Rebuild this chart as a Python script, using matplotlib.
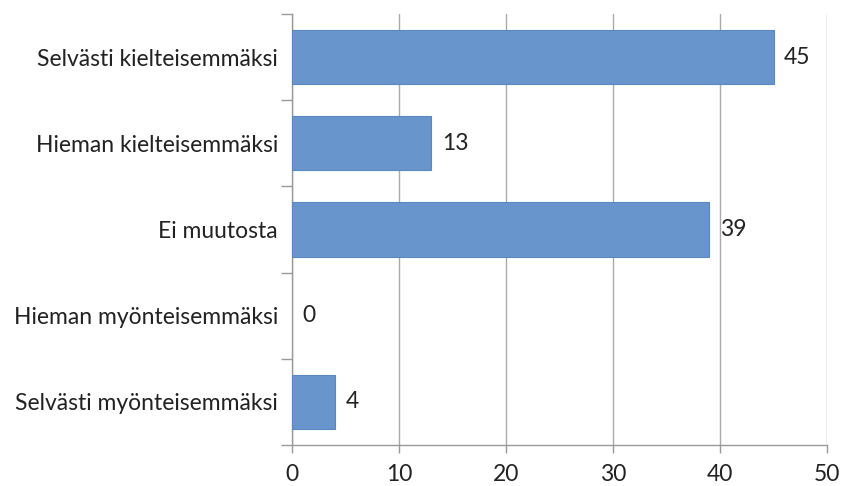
import matplotlib.pyplot as plt

categories = [
    "Selvästi kielteisemmäksi",
    "Hieman kielteisemmäksi",
    "Ei muutosta",
    "Hieman myönteisemmäksi",
    "Selvästi myönteisemmäksi",
]
values = [45, 13, 39, 0, 4]
x_ticks = [0, 10, 20, 30, 40, 50]

plt.rcParams["font.family"] = ["Lato", "DejaVu Sans"]
FS = 16.5

fig = plt.figure(figsize=(8.42, 4.86), dpi=100)
ax = fig.add_axes([0.3468, 0.0844, 0.6354, 0.8868])

pos = list(range(len(categories)))
bars = ax.barh(pos, values, height=0.63, color="#6795cc", edgecolor="#5b88bf", linewidth=0.8, zorder=3)
for b, v in zip(bars, values):
    if v == 0:
        b.set_linewidth(0)

for p, v in zip(pos, values):
    ax.text(v + 1.0, p, str(v), va="center", ha="left", fontsize=FS, color="#222222")

ax.set_xlim(0, 50)
ax.set_ylim(len(categories) - 0.5, -0.5)
ax.set_xticks(x_ticks)
ax.set_xticklabels([str(t) for t in x_ticks], fontsize=FS, color="#222222")

ax.set_yticks(pos)
ax.set_yticklabels(categories, fontsize=FS, color="#222222")
ax.tick_params(axis="y", length=0, pad=10)
ax.set_yticks([i - 0.5 for i in range(len(categories) + 1)], minor=True)
ax.tick_params(axis="y", which="minor", length=8, color="#999999", width=1)
ax.tick_params(axis="x", length=6, color="#999999", width=1, pad=8)

ax.grid(axis="x", color="#aaaaaa", linewidth=1, zorder=0)
for side in ["top", "right"]:
    ax.spines[side].set_visible(False)
for side in ["left", "bottom"]:
    ax.spines[side].set_color("#999999")
    ax.spines[side].set_linewidth(1)

fig.savefig("out.png", dpi=100, facecolor="white")
